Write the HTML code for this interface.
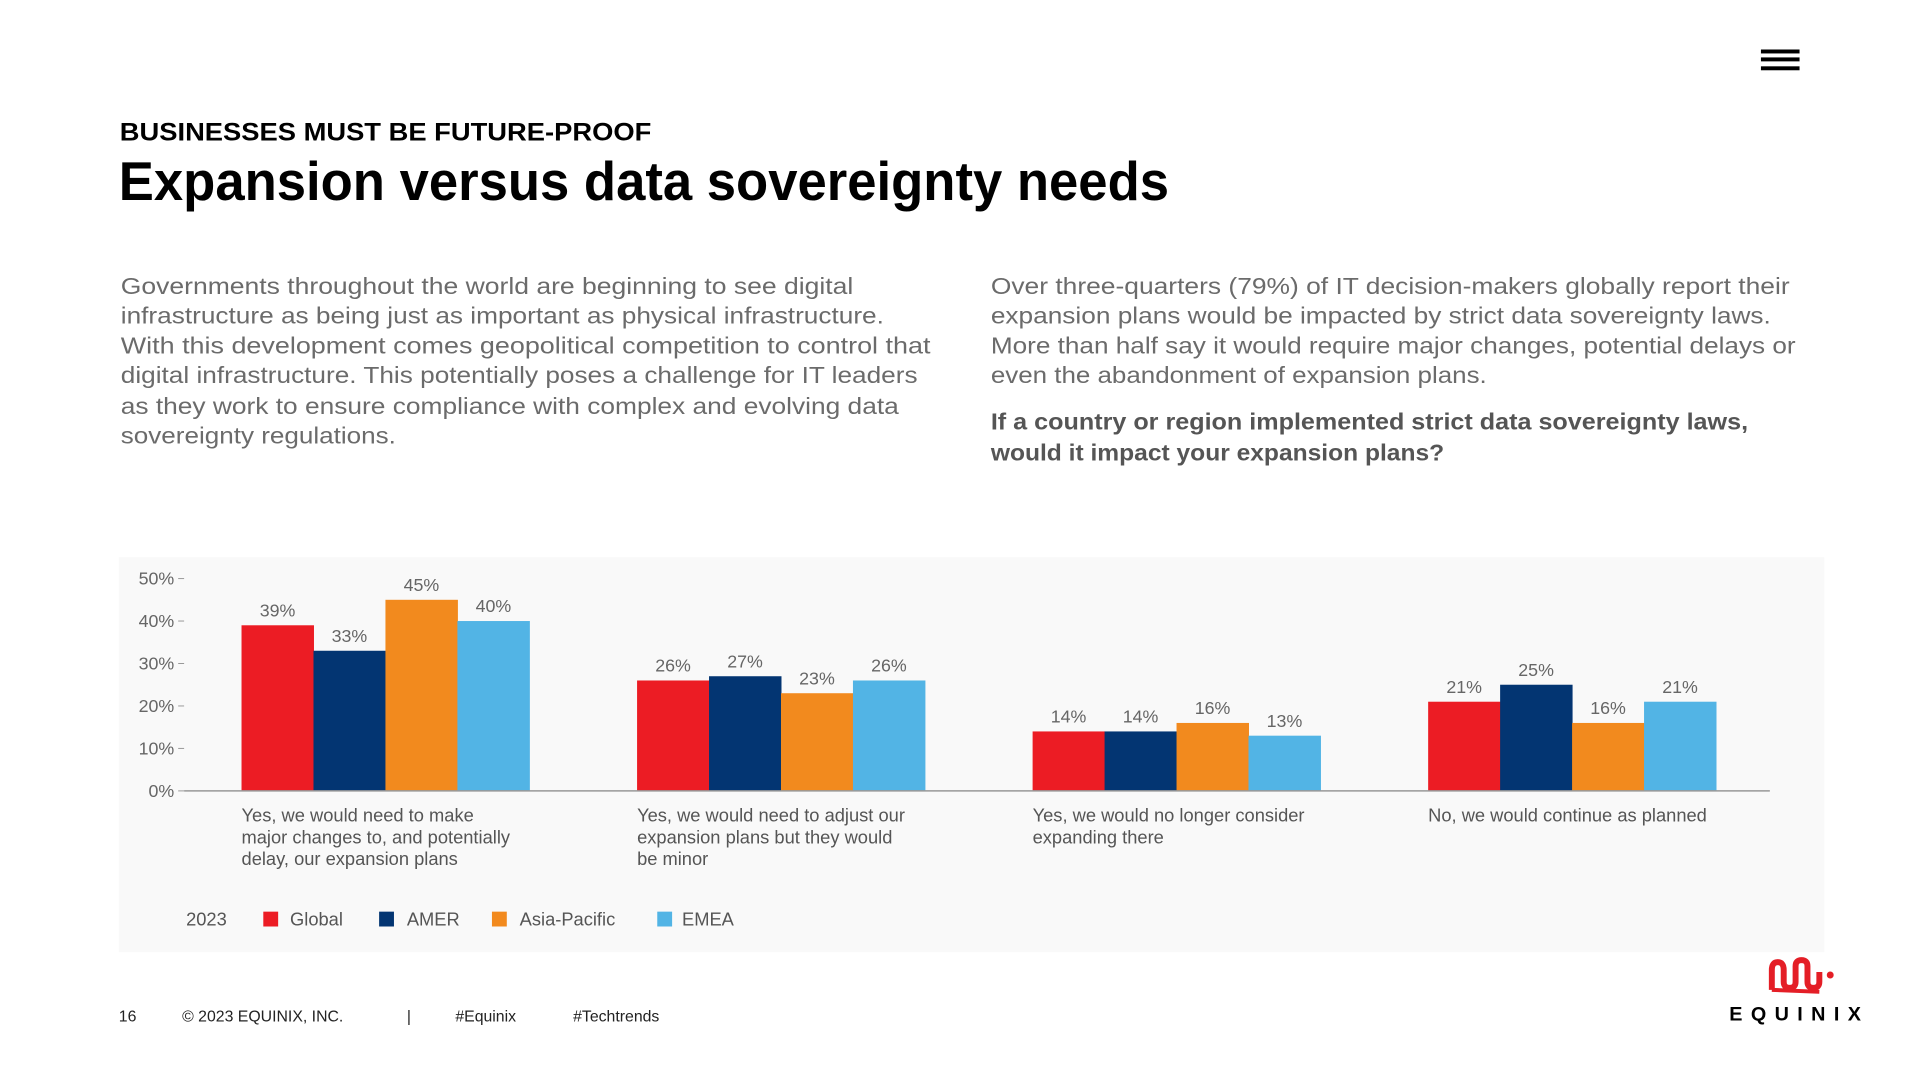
<!DOCTYPE html>
<html><head><meta charset="utf-8"><style>
html,body{margin:0;padding:0;background:#fff;width:1920px;height:1080px;overflow:hidden}
svg{display:block}
text{font-family:"Liberation Sans",sans-serif}
</style></head><body>
<svg id="page" width="1920" height="1080" viewBox="0 0 1920 1080">
<g transform="scale(0.98985)">
  <g>
    <rect x="1779" y="50" width="39" height="4" fill="#000"/>
    <rect x="1779" y="58" width="39" height="4" fill="#000"/>
    <rect x="1779" y="67" width="39" height="4" fill="#000"/>
  </g>
  <text x="121" y="142" font-size="25" font-weight="bold" fill="#000" textLength="537" lengthAdjust="spacingAndGlyphs">BUSINESSES MUST BE FUTURE-PROOF</text>
  <text x="120" y="202" font-size="55" font-weight="bold" fill="#000" textLength="1061" lengthAdjust="spacingAndGlyphs">Expansion versus data sovereignty needs</text>

  <g font-size="23" fill="#6b6b6b">
    <text x="122" y="297" textLength="740" lengthAdjust="spacingAndGlyphs">Governments throughout the world are beginning to see digital</text>
    <text x="122" y="327" textLength="771" lengthAdjust="spacingAndGlyphs">infrastructure as being just as important as physical infrastructure.</text>
    <text x="122" y="357" textLength="818" lengthAdjust="spacingAndGlyphs">With this development comes geopolitical competition to control that</text>
    <text x="122" y="387" textLength="805" lengthAdjust="spacingAndGlyphs">digital infrastructure. This potentially poses a challenge for IT leaders</text>
    <text x="122" y="418" textLength="786" lengthAdjust="spacingAndGlyphs">as they work to ensure compliance with complex and evolving data</text>
    <text x="122" y="448" textLength="278" lengthAdjust="spacingAndGlyphs">sovereignty regulations.</text>
  </g>
  <g font-size="23" fill="#6b6b6b">
    <text x="1001" y="297" textLength="807" lengthAdjust="spacingAndGlyphs">Over three-quarters (79%) of IT decision-makers globally report their</text>
    <text x="1001" y="327" textLength="788" lengthAdjust="spacingAndGlyphs">expansion plans would be impacted by strict data sovereignty laws.</text>
    <text x="1001" y="357" textLength="813" lengthAdjust="spacingAndGlyphs">More than half say it would require major changes, potential delays or</text>
    <text x="1001" y="387" textLength="501" lengthAdjust="spacingAndGlyphs">even the abandonment of expansion plans.</text>
  </g>
  <g font-size="23" font-weight="bold" fill="#555">
    <text x="1001" y="434" textLength="765" lengthAdjust="spacingAndGlyphs">If a country or region implemented strict data sovereignty laws,</text>
    <text x="1001" y="465" textLength="458" lengthAdjust="spacingAndGlyphs">would it impact your expansion plans?</text>
  </g>

  <rect x="120" y="563" width="1723" height="399" fill="#f9f9f9"/>
  <g id="chart"></g>

  <g font-size="16" fill="#222">
    <text x="120" y="1032">16</text>
    <text x="184" y="1032">© 2023 EQUINIX, INC.</text>
    <text x="411" y="1032">|</text>
    <text x="460" y="1032">#Equinix</text>
    <text x="579" y="1032">#Techtrends</text>
  </g>

  <g>
    <path d="M1790,1000 L1790,980 Q1790,972 1796,972 Q1802,972 1802,980 L1802,992 Q1802,998 1808,998 Q1814,998 1814,992 L1814,976 Q1814,970 1820,970 Q1826,970 1826,976 L1826,992 Q1826,998 1832,998 Q1838,998 1838,992 L1838,982" fill="none" stroke="#e41e26" stroke-width="6"/>
    <path d="M1790,1000 L1838,1002" fill="none" stroke="#e41e26" stroke-width="4"/>
    <circle cx="1849" cy="985" r="3.5" fill="#e41e26"/>
    <text x="1747" y="1031" font-size="20" font-weight="bold" fill="#000" textLength="133" lengthAdjust="spacing">EQUINIX</text>
  </g>
</g>
</svg>
<script>
const categories = [
  ["Yes, we would need to make","major changes to, and potentially","delay, our expansion plans"],
  ["Yes, we would need to adjust our","expansion plans but they would","be minor"],
  ["Yes, we would no longer consider","expanding there"],
  ["No, we would continue as planned"]
];
const seriesNames = ["Global","AMER","Asia-Pacific","EMEA"];
const globalValues = [39, 26, 14, 21];
const amerValues = [33, 27, 14, 25];
const apacValues = [45, 23, 16, 16];
const emeaValues = [40, 26, 13, 21];
const yTicks = [0, 10, 20, 30, 40, 50];
const legendYear = "2023";

const NS = "http://www.w3.org/2000/svg";
const g = document.getElementById("chart");
const colors = ["#ec1c24", "#033572", "#f28a1e", "#52b4e5"];
const series = [globalValues, amerValues, apacValues, emeaValues];
const y0 = 799, yPerUnit = 4.29;
const yScale = v => y0 - v * yPerUnit;
const groupX = i => 244 + i * 399.6;
const barW = 72.7;
const xScale = (gi, si) => groupX(gi) + si * barW;

function mk(tag, attrs, txt) {
  const e = document.createElementNS(NS, tag);
  for (const k in attrs) e.setAttribute(k, attrs[k]);
  if (txt !== undefined) e.textContent = txt;
  g.appendChild(e);
  return e;
}

yTicks.forEach(t => {
  const y = yScale(t);
  const lab = mk("text", {x: 176, y: y + 6, "font-size": 18, fill: "#666", "text-anchor": "end"}, t + "%");
  
  
  const tk = mk("line", {x1: 180, x2: 186, y1: y, y2: y, stroke: "#999", "stroke-width": 1});
  
  
});

series.forEach((vals, si) => {
  vals.forEach((v, gi) => {
    const x = xScale(gi, si);
    const r = mk("rect", {x: x, y: yScale(v), width: barW + 0.5, height: y0 - yScale(v), fill: colors[si]});
    
    
    const t = mk("text", {x: x + barW / 2, y: yScale(v) - 9, "font-size": 18, fill: "#666", "text-anchor": "middle"}, v + "%");
    
    
  });
});

const axis = mk("line", {x1: 186, x2: 1788, y1: y0, y2: y0, stroke: "#999", "stroke-width": 1.5});



categories.forEach((lines, gi) => {
  lines.forEach((ln, li) => {
    const t = mk("text", {x: groupX(gi), y: 830 + li * 22, "font-size": 18.5, fill: "#555"}, ln);
    
    
  });
});

const yr = mk("text", {x: 188, y: 935, "font-size": 18.5, fill: "#555"}, legendYear);


const legSq = [266, 383, 497, 664];
const legTx = [293, 411, 525, 689];
seriesNames.forEach((n, si) => {
  const s = mk("rect", {x: legSq[si], y: 921, width: 15, height: 15, fill: colors[si]});
  
  
  const t = mk("text", {x: legTx[si], y: 935, "font-size": 18.5, fill: "#555"}, n);
  
  
});
</script>
</body></html>
